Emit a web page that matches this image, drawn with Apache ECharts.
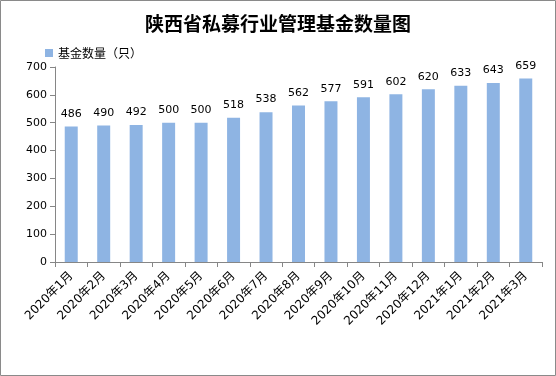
<!DOCTYPE html>
<html><head><meta charset="utf-8">
<script src="https://cdn.jsdelivr.net/npm/echarts@6/dist/echarts.min.js"></script>
<style>html,body{margin:0;padding:0;background:#fff}#c{width:556px;height:376px}</style>
</head><body><div id="c"></div>
<script>
const categories = ['2020年1月','2020年2月','2020年3月','2020年4月','2020年5月','2020年6月','2020年7月','2020年8月','2020年9月','2020年10月','2020年11月','2020年12月','2021年1月','2021年2月','2021年3月'];
const fundCounts = [486,490,492,500,500,518,538,562,577,591,602,620,633,643,659];
const seriesName = '基金数量（只）';
const titleText = '陕西省私募行业管理基金数量图';
const yMin = 0, yMax = 700, yInterval = 100;

const chart = echarts.init(document.getElementById('c'));
const numFont = '"DejaVu Sans","Noto Sans CJK SC",sans-serif';
chart.setOption({
  animation: false,
  backgroundColor: '#fff',
  graphic: [{type:'rect', shape:{x:0.5,y:0.5,width:555,height:375}, style:{fill:'none', stroke:'#8a8a8a', lineWidth:1}, silent:true}],
  title: {text: titleText, left: 'center', top: 9,
    textStyle:{fontFamily:'"Noto Sans CJK SC",sans-serif', fontSize:19, fontWeight:'bold', color:'#000'}},
  legend: {left: 40, top: 42, itemWidth: 8, itemHeight: 8, itemGap: 6,
    textStyle:{fontFamily:'"Noto Sans CJK SC",sans-serif', fontSize:12, color:'#000'},
    data:[{name: seriesName, icon:'rect'}]},
  grid: {left: 55, right: 14, top: 67, bottom: 114, containLabel: false},
  xAxis: {type:'category', data: categories,
    axisLine:{lineStyle:{color:'#868686'}},
    axisTick:{show:true, alignWithLabel:false, length:5, lineStyle:{color:'#868686'}},
    axisLabel:{rotate:45, interval:0, fontFamily:numFont, fontSize:12, color:'#000', margin:12}},
  yAxis: {type:'value', min:yMin, max:yMax, interval:yInterval,
    axisLine:{show:true, lineStyle:{color:'#868686'}},
    axisTick:{show:true, length:5, lineStyle:{color:'#868686'}},
    splitLine:{show:false},
    axisLabel:{fontFamily:numFont, fontSize:11, color:'#000', margin:8}},
  series: [{name: seriesName, type:'bar', data: fundCounts, barWidth:'40%',
    itemStyle:{color:'#8EB4E3'},
    label:{show:true, position:'top', distance:7, fontFamily:numFont, fontSize:11, color:'#000'}}]
});
</script></body></html>
